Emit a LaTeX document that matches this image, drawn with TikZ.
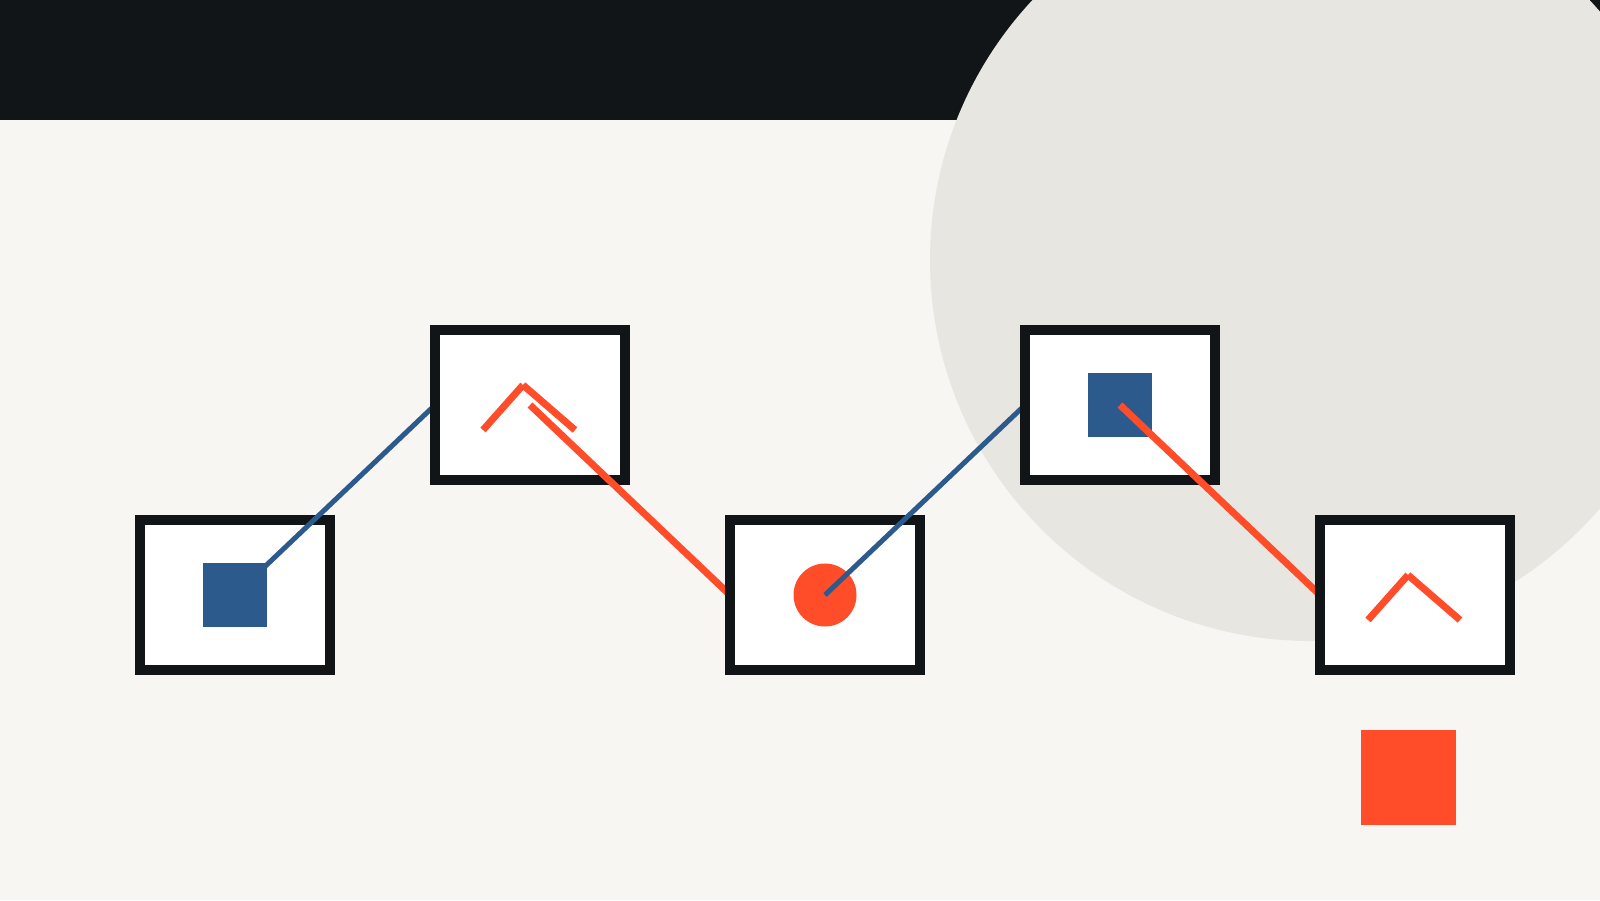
\documentclass[tikz,border=0pt]{standalone}
\usetikzlibrary{positioning}
\definecolor{ink}{HTML}{111518}
\definecolor{paper}{HTML}{F7F6F2}
\definecolor{disc}{HTML}{E8E6E0}
\definecolor{flame}{HTML}{FF4D2A}
\definecolor{navy}{HTML}{2C5A8C}
\tikzset{card/.style={draw=ink,fill=white,line width=10pt,minimum width=190pt,minimum height=150pt,inner sep=0pt,outer sep=0pt}}
\tikzset{tile/.style={fill=navy,minimum size=64pt,inner sep=0pt,outer sep=0pt}}
\tikzset{chev/.style={draw=flame,line width=7pt}}
\tikzset{bluelink/.style={draw=navy,line width=5pt}}
\tikzset{redlink/.style={draw=flame,line width=7pt}}

\begin{document}
\begin{tikzpicture}[x=1pt,y=-1pt]
  \useasboundingbox (0,0) rectangle (1600,900);
  \clip (0,0) rectangle (1600,900);
  \fill[paper] (0,0) rectangle (1600,900);
  \fill[ink] (0,0) rectangle (1600,120);
  \fill[disc] (1311,260) circle (381pt);

  \coordinate (c1) at (235,595);
  \coordinate (c2) at (530,405);
  \coordinate (c3) at (825,595);
  \coordinate (c4) at (1120,405);
  \coordinate (c5) at (1415,595);

  \node[card] (s1) at (c1) {};
  \node[tile] (q1) at (s1) {};
  \draw[bluelink] (s1.center) -- ([xshift=-95pt]c2);

  \node[card] (s2) at (c2) {};
  \draw[chev] ([shift={(-47,25)}]s2.center) -- ++(40,-45);
  \draw[chev] ([shift={(-7,-20)}]s2.center) -- ++(52,45);
  \draw[redlink] (s2.center) -- ([xshift=-95pt]c3);

  \node[card] (s3) at (c3) {};
  \node[circle,fill=flame,minimum size=63pt,inner sep=0pt] (dot) at (s3) {};
  \draw[bluelink] (s3.center) -- ([xshift=-95pt]c4);

  \node[card] (s4) at (c4) {};
  \node[tile] (q4) at (s4) {};
  \draw[redlink] (s4.center) -- ([xshift=-95pt]c5);

  \node[card] (s5) at (c5) {};
  \draw[chev] ([shift={(-47,25)}]s5.center) -- ++(40,-45);
  \draw[chev] ([shift={(-7,-20)}]s5.center) -- ++(52,45);

  \node[fill=flame,minimum size=95pt,inner sep=0pt] (block) at (1408,777) {};
\end{tikzpicture}
\end{document}
